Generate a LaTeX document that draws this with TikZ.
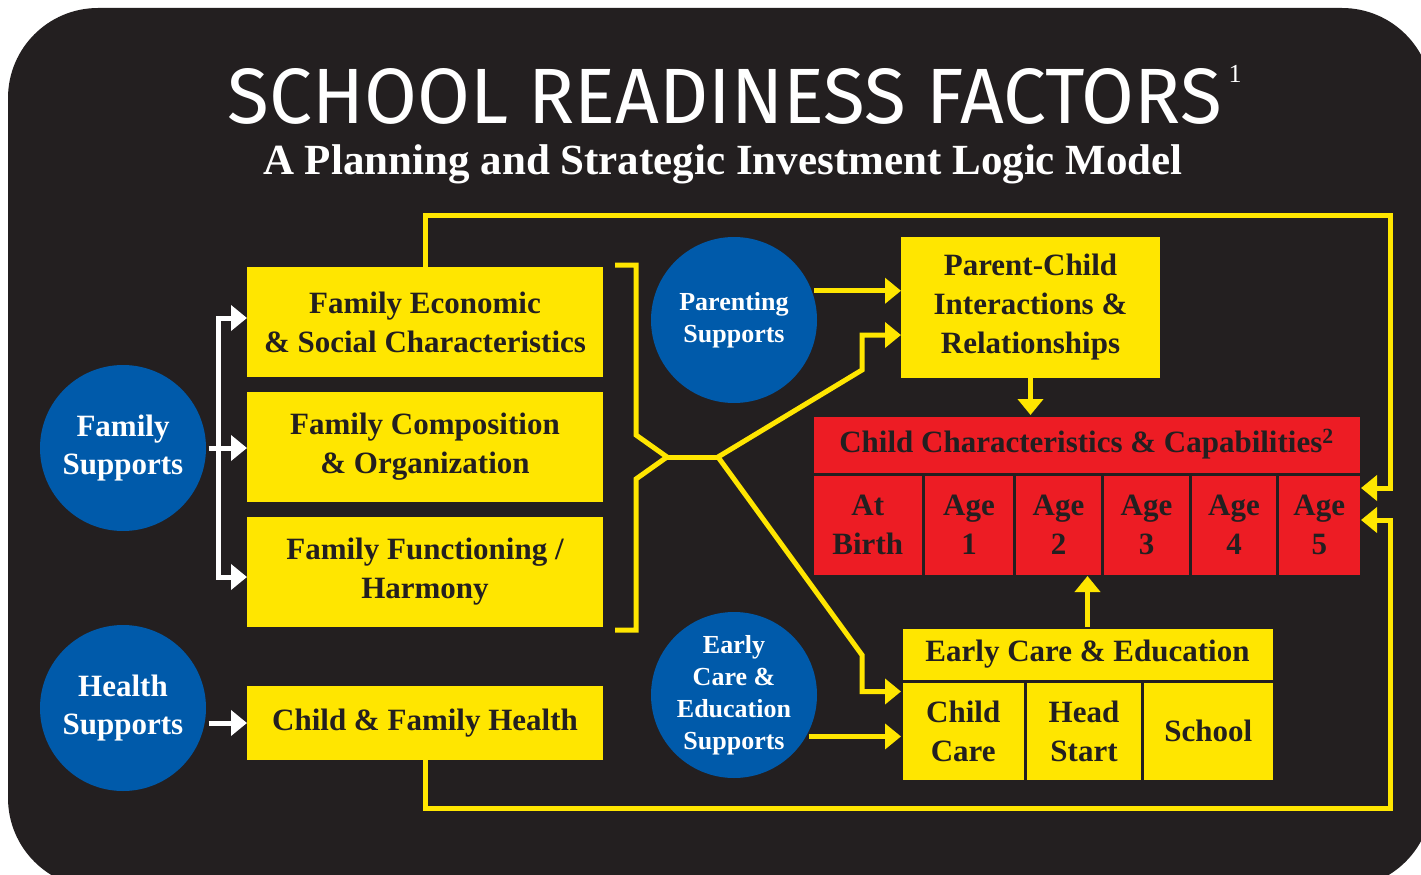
\documentclass[tikz,border=0pt]{standalone}
\usepackage{graphicx}
\usepackage{fontspec}
\setmainfont{Liberation Serif}
\newfontfamily\chalkfont{Fira Sans}
\usetikzlibrary{arrows.meta,positioning}
\definecolor{board}{RGB}{35,31,32}
\definecolor{fyellow}{RGB}{255,230,0}
\definecolor{cred}{RGB}{237,28,36}
\definecolor{sblue}{RGB}{0,90,170}

\begin{document}
\begin{tikzpicture}
[x=1pt, y=-1pt, line width=5pt, >={Triangle[length=16pt,width=25pt]},
factor/.style={rectangle, fill=fyellow, text=board, inner sep=0pt, outer sep=0pt, align=center, font=\bfseries\fontsize{31}{39}\selectfont},
cell/.style={factor, draw=board, line width=3pt},
outcome/.style={cell, fill=cred},
support/.style={circle, fill=sblue, text=white, inner sep=0pt, minimum size=166pt, align=center, font=\bfseries\fontsize{31}{38}\selectfont},
smallsupport/.style={support, font=\bfseries\fontsize{26}{32}\selectfont},
heading/.style={text=white, inner sep=0pt},
link/.style={draw=fyellow, ->},
feed/.style={draw=white, ->}]

\useasboundingbox (0,0) rectangle (1421,875);
\fill[white] (0,0) rectangle (1421,875);
\fill[board, rounded corners=90pt] (8,8) rectangle (1432,888);

\node[heading] (title) at (725,96) {\resizebox{994pt}{55pt}{\chalkfont SCHOOL READINESS FACTORS}};
\node[heading, font=\fontsize{26}{26}\selectfont] (fn1) at (1235,74) {1};
\node[heading, font=\bfseries\fontsize{43}{43}\selectfont] (sub) at (723,164) {A Planning and Strategic Investment Logic Model};

\node[support] (fsup) at (123,448) {Family\\Supports};
\node[support] (hsup) at (123,708) {Health\\Supports};
\node[smallsupport] (psup) at (734,320) {Parenting\\Supports};
\node[smallsupport] (esup) at (734,695) {Early\\Care \&\\Education\\Supports};

\node[factor, minimum width=356pt, minimum height=110pt] (fe) at (425,322) {Family Economic\\\& Social Characteristics};
\node[factor, minimum width=356pt, minimum height=110pt] (fc) at (425,447) {Family Composition\\\& Organization};
\node[factor, minimum width=356pt, minimum height=110pt] (ff) at (425,572) {Family Functioning /\\Harmony};
\node[factor, minimum width=356pt, minimum height=74pt] (hb) at (425,723) {Child \& Family Health};

\node[factor, minimum width=259pt, minimum height=141pt] (pc) at (1030.5,307.5) {Parent-Child\\Interactions \&\\Relationships};

\node[outcome, minimum width=549pt, minimum height=59pt] (cch) at (1086.5,444.5) {Child Characteristics \& Capabilities\textsuperscript{2}};
\node[outcome, minimum width=111.5pt, minimum height=102pt] (ab) at (867.75,525) {At\\Birth};
\node[outcome, minimum width=91pt, minimum height=102pt] (a1) at (969,525) {Age\\1};
\node[outcome, minimum width=88pt, minimum height=102pt] (a2) at (1058.5,525) {Age\\2};
\node[outcome, minimum width=88pt, minimum height=102pt] (a3) at (1146.5,525) {Age\\3};
\node[outcome, minimum width=87pt, minimum height=102pt] (a4) at (1234,525) {Age\\4};
\node[outcome, minimum width=83.5pt, minimum height=102pt] (a5) at (1319.25,525) {Age\\5};

\node[cell, minimum width=373pt, minimum height=54.5pt] (eh) at (1087.5,654.25) {Early Care \& Education};
\node[cell, minimum width=124.5pt, minimum height=99.5pt] (cc) at (963.25,731.25) {Child\\Care};
\node[cell, minimum width=117pt, minimum height=99.5pt] (hs) at (1084,731.25) {Head\\Start};
\node[cell, minimum width=131.5pt, minimum height=99.5pt] (sc) at (1208.25,731.25) {School};

\coordinate (split) at (218,448);
\coordinate (hub) at (718,457);
\coordinate (bend1) at (862,370);
\coordinate (bend2) at (862,655);
\coordinate (loopT) at (1390,215);
\coordinate (loopB) at (1390,808);

\draw[white] (fsup.east) -- (split);
\draw[feed] (split) |- ([yshift=4pt]fe.west);
\draw[feed] (split) -- (split -| fc.west);
\draw[feed] (split) |- ([yshift=-5pt]ff.west);
\draw[feed] (hb.west -| hsup.east) -- (hb.west);

\draw[fyellow] (615,265) -- (636,265) -- (636,435) -- (667,457) -- (636,479) -- (636,630) -- (615,630);
\draw[fyellow] (667,457) -- (hub);
\draw[link] (hub) -- (bend1) |- ([yshift=-27.5pt]pc.west);
\draw[link] (hub) -- (bend2) |- ([yshift=-10pt]cc.north west);
\draw[link] (psup.20) -- (psup.20 -| pc.west);
\draw[link] (esup.-29) -- (esup.-29 -| cc.west);
\draw[link] (pc.south) -- (pc.south |- cch.north);
\draw[link] (eh.north) -- (eh.north |- a2.south);

\draw[link] (fe.north) |- (loopT) |- ([yshift=-14pt]a5.north east);
\draw[link] (hb.south) |- (loopB) |- ([yshift=5pt]a5.east);

\end{tikzpicture}
\end{document}
